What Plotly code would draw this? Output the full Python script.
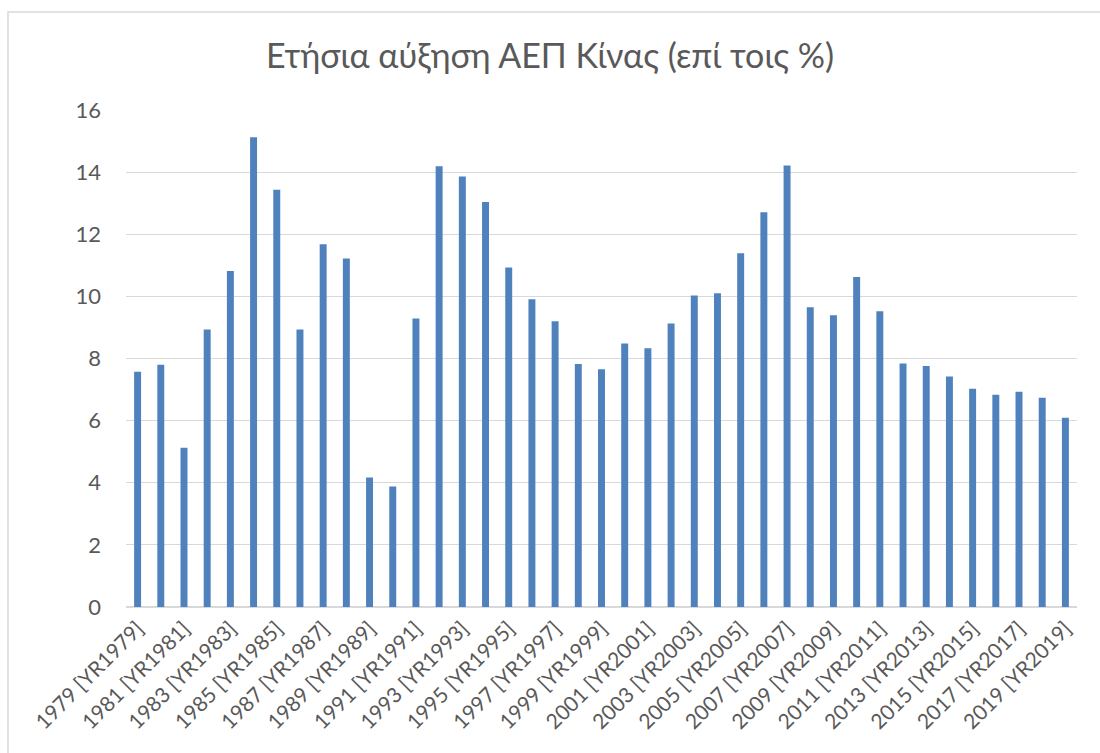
import plotly.graph_objects as go

years = list(range(1979, 2020))
categories = [f"{y} [YR{y}]" for y in years]
growth = [7.57, 7.80, 5.13, 8.93, 10.82, 15.12, 13.43, 8.93, 11.68, 11.22,
          4.17, 3.88, 9.29, 14.19, 13.86, 13.04, 10.93, 9.91, 9.20, 7.82,
          7.65, 8.48, 8.33, 9.13, 10.03, 10.10, 11.39, 12.71, 14.21, 9.65,
          9.39, 10.62, 9.52, 7.84, 7.76, 7.42, 7.03, 6.83, 6.93, 6.74,
          6.09]
tick_labels = categories[::2]
y_ticks = [0, 2, 4, 6, 8, 10, 12, 14, 16]

FONT = "Lato, 'Noto Sans', sans-serif"
GREY = "#595959"

fig = go.Figure(go.Bar(x=categories, y=growth, marker_color="#4F81BD",
                       marker_line_width=0, width=0.3))

fig.update_layout(
    width=1100, height=753,
    margin=dict(l=126, r=23, t=110, b=146, autoexpand=False),
    paper_bgcolor="white", plot_bgcolor="white",
    font=dict(family=FONT, color=GREY, size=16),
    title=dict(text="Ετήσια αύξηση ΑΕΠ Κίνας (επί τοις %)", x=0.5, xanchor="center",
               y=0.926, yanchor="middle", font=dict(size=34, color=GREY, family=FONT)),
    showlegend=False,
    shapes=[dict(type="rect", xref="paper", yref="paper",
                 x0=-0.1241, x1=1.03, y0=-0.31, y1=1.197,
                 line=dict(color="#D9D9D9", width=1.5), layer="below")],
)
fig.update_xaxes(type="category", tickvals=tick_labels, ticktext=tick_labels,
                 tickangle=-45, showgrid=False, showline=True, linecolor="#D9D9D9",
                 linewidth=1, ticks="", automargin=False,
                 tickfont=dict(size=21, color=GREY))
fig.update_yaxes(range=[0, 16], tickvals=y_ticks, showgrid=True, gridcolor="#D9D9D9",
                 gridwidth=1, zeroline=True, zerolinecolor="#D9D9D9", showline=False,
                 ticks="", ticklabelstandoff=24, automargin=False,
                 tickfont=dict(size=22, color=GREY))

fig.write_html("out.html", config={"displayModeBar": False},
               post_script="document.body.style.margin='0';")
